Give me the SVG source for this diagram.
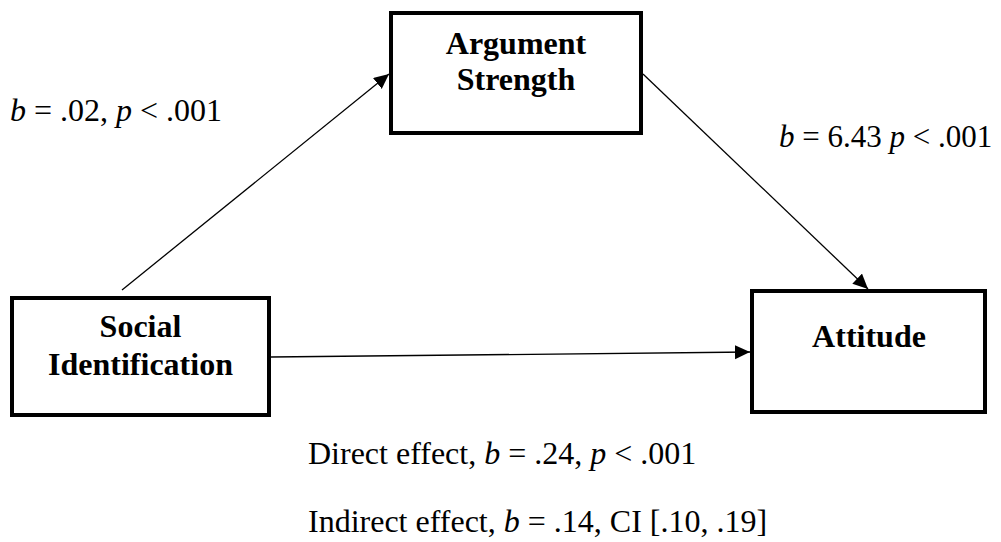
<svg xmlns="http://www.w3.org/2000/svg" width="1001" height="542" viewBox="0 0 1001 542">
  <style>
    .box { fill: #fff; stroke: #000; stroke-width: 4; }
    .node { font-family: "Liberation Serif", "Times New Roman", serif; font-weight: bold; font-size: 32px; fill: #000; text-anchor: middle; }
    .lbl { font-family: "Liberation Serif", "Times New Roman", serif; font-size: 32px; fill: #000; }
    .conn { stroke: #000; stroke-width: 1.3; fill: none; marker-end: url(#arr); }
    .i { font-style: italic; }
  </style>
  <defs>
    <marker id="arr" markerUnits="userSpaceOnUse" markerWidth="16" markerHeight="15" refX="15" refY="7" orient="auto">
      <path d="M0,0 L15,7 L0,14 z" fill="#000"/>
    </marker>
  </defs>
  <rect width="1001" height="542" fill="#fff"/>
  <g id="connectors">
    <line class="conn" x1="122" y1="290" x2="389" y2="74"/>
    <line class="conn" x1="643" y1="74" x2="868" y2="289"/>
    <line class="conn" x1="271" y1="357" x2="750" y2="352"/>
  </g>
  <g id="argument-strength">
    <rect class="box" x="391" y="13" width="250" height="120"/>
    <text class="node" x="516" y="54">Argument</text>
    <text class="node" x="516" y="90">Strength</text>
  </g>
  <g id="social-identification">
    <rect class="box" x="12" y="298" width="257" height="117"/>
    <text class="node" x="140.5" y="337">Social</text>
    <text class="node" x="140.5" y="375">Identification</text>
  </g>
  <g id="attitude">
    <rect class="box" x="752" y="291" width="233" height="121"/>
    <text class="node" x="869" y="347">Attitude</text>
  </g>
  <g id="labels">
    <text class="lbl" x="10" y="121"><tspan class="i">b</tspan> = .02, <tspan class="i">p</tspan> &lt; .001</text>
    <text class="lbl" x="779" y="147" style="font-size:31px"><tspan class="i">b</tspan> = 6.43 <tspan class="i">p</tspan> &lt; .001</text>
    <text class="lbl" x="308" y="464">Direct effect, <tspan class="i">b</tspan> = .24, <tspan class="i">p</tspan> &lt; .001</text>
    <text class="lbl" x="308" y="532">Indirect effect, <tspan class="i">b</tspan> = .14, CI [.10, .19]</text>
  </g>
</svg>
